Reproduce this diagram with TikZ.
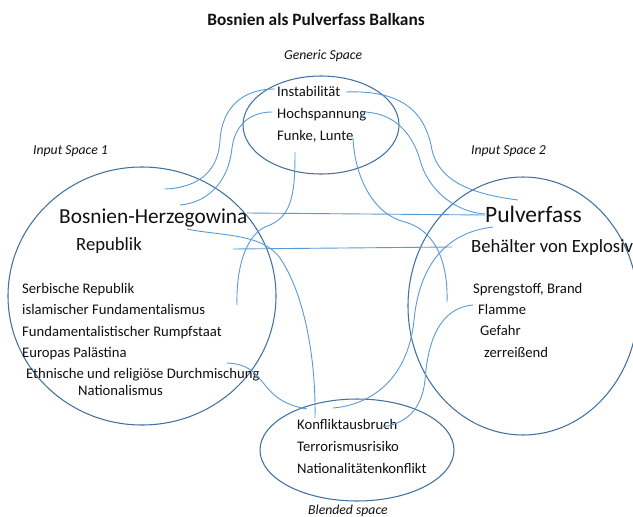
\documentclass[tikz,border=0pt]{standalone}
\usepackage{fontspec}
\setmainfont{Carlito}
\usetikzlibrary{shapes.geometric}
\definecolor{ringc}{HTML}{41719C}
\definecolor{linkc}{HTML}{5B9BD5}
\definecolor{inkc}{HTML}{111111}
\begin{document}
\begin{tikzpicture}[x=1pt,y=-1pt,
  ring/.style={ellipse, draw=ringc, line width=1.05pt, inner sep=0pt},
  link/.style={draw=linkc, line width=0.9pt},
  body/.style={anchor=base west, inner sep=0pt, text=inkc, font=\fontsize{14.67}{17}\selectfont},
  big/.style={anchor=base west, inner sep=0pt, text=inkc, font=\fontsize{21.33}{24}\selectfont},
  mid/.style={anchor=base west, inner sep=0pt, text=inkc, font=\fontsize{18.67}{21}\selectfont},
  lab/.style={anchor=base west, inner sep=0pt, text=inkc, font=\fontsize{13.7}{16}\selectfont\itshape},
]
\useasboundingbox (0,0) rectangle (633,517);
\fill[white] (0,0) rectangle (633,517);
\begin{scope}
\clip (0,0) rectangle (633,517);
% spaces
\node[ring, minimum width=156pt, minimum height=98pt] (generic) at (321,125) {};
\node[ring, minimum width=268pt, minimum height=258pt] (input1) at (142,296) {};
\node[ring, minimum width=230pt, minimum height=258pt] (input2) at (523,306) {};
\node[ring, minimum width=194pt, minimum height=102pt] (blend) at (357,450) {};

% title and labels
\node[anchor=base, inner sep=0pt, text=inkc, font=\fontsize{17.3}{20}\selectfont\bfseries] (title) at (316,25.5) {Bosnien als Pulverfass Balkans};
\node[lab] (lgen) at (284,59) {Generic Space};
\node[lab] (lin1) at (33,154) {Input Space 1};
\node[lab] (lin2) at (471,154) {Input Space 2};
\node[lab] (lbl) at (308,514) {Blended space};

% generic space
\node[body] (g1) at (277,96.4) {Instabilität};
\node[body] (g2) at (277,118) {Hochspannung};
\node[body] (g3) at (277,140.4) {Funke, Lunte};

% input 1
\node[big] (b1) at (59,223.4) {Bosnien-Herzegowina};
\node[mid] (b2) at (76,250.6) {Republik};
\node[body] (b3) at (22,293) {Serbische Republik};
\node[body] (b4) at (22,314.4) {islamischer Fundamentalismus};
\node[body] (b5) at (22,336.4) {Fundamentalistischer Rumpfstaat};
\node[body] (b6) at (22,357.4) {Europas Palästina};
\node[body] (b7) at (26,378.4) {Ethnische und religiöse Durchmischung};
\node[body] (b8) at (78,395.4) {Nationalismus};

% input 2
\node[anchor=base west, inner sep=0pt, text=inkc, font=\fontsize{23.5}{26}\selectfont] (p1) at (485,222) {Pulverfass};
\node[mid] (p2) at (471,252.6) {Behälter von Explosiv};
\node[body] (p3) at (473,293.4) {Sprengstoff, Brand};
\node[body] (p4) at (478,314.4) {Flamme};
\node[body] (p5) at (480,335.4) {Gefahr};
\node[body] (p6) at (484,357) {zerreißend};

% blended
\node[body] (k1) at (297,429.4) {Konfliktausbruch};
\node[body] (k2) at (297,451.4) {Terrorismusrisiko};
\node[body] (k3) at (297,473.4) {Nationalitätenkonflikt};

% connector end points
\coordinate (c1s) at (275,89);   \coordinate (c1e) at (165,189);
\coordinate (c2s) at (272,112);  \coordinate (c2e) at (180,205);
\coordinate (cAs) at (346,92);   \coordinate (cAe) at (518,200);
\coordinate (cBs) at (362,112);  \coordinate (cBe) at (485,214);
\coordinate (c4s) at (295,152);  \coordinate (c4e) at (237,305);
\coordinate (c5s) at (353,138);  \coordinate (c5e) at (447,302);
\coordinate (c6s) at (247,213);  \coordinate (c6e) at (485,215);
\coordinate (c7s) at (187,229);  \coordinate (c7e) at (315,418);
\coordinate (c8s) at (233,249);  \coordinate (c8e) at (452,247);
\coordinate (c9s) at (493,227);  \coordinate (c9e) at (333,408);
\coordinate (c10s) at (473,305); \coordinate (c10e) at (380,427);
\coordinate (c11s) at (227,363); \coordinate (c11e) at (307,409);

% connectors
\draw[link] (c1s) .. controls (240,89) and (222,110) .. (220,140) .. controls (218,178) and (190,188) .. (c1e);
\draw[link] (c2s) .. controls (250,112) and (235,125) .. (232,148) .. controls (228,185) and (205,203) .. (c2e);
\draw[link] (cAs) .. controls (400,90) and (425,110) .. (432,150) .. controls (440,185) and (480,195) .. (cAe);
\draw[link] (cBs) .. controls (395,112) and (413,135) .. (420,160) .. controls (428,190) and (455,212) .. (cBe);
\draw[link] (c4s) .. controls (295,190) and (293,215) .. (270,225) .. controls (245,232) and (236,270) .. (c4e);
\draw[link] (c5s) .. controls (355,180) and (375,215) .. (405,222) .. controls (440,232) and (448,270) .. (c5e);
\draw[link] (c6s) -- (c6e);
\draw[link] (c7s) .. controls (220,236) and (262,233) .. (280,258) .. controls (305,295) and (316,360) .. (c7e);
\draw[link] (c8s) -- (c8e);
\draw[link] (c9s) .. controls (450,232) and (420,260) .. (414,320) .. controls (408,380) and (370,405) .. (c9e);
\draw[link] (c10s) .. controls (440,308) and (428,340) .. (425,380) .. controls (422,410) and (405,425) .. (c10e);
\draw[link] (c11s) .. controls (270,365) and (255,400) .. (c11e);
\end{scope}
\end{tikzpicture}
\end{document}
